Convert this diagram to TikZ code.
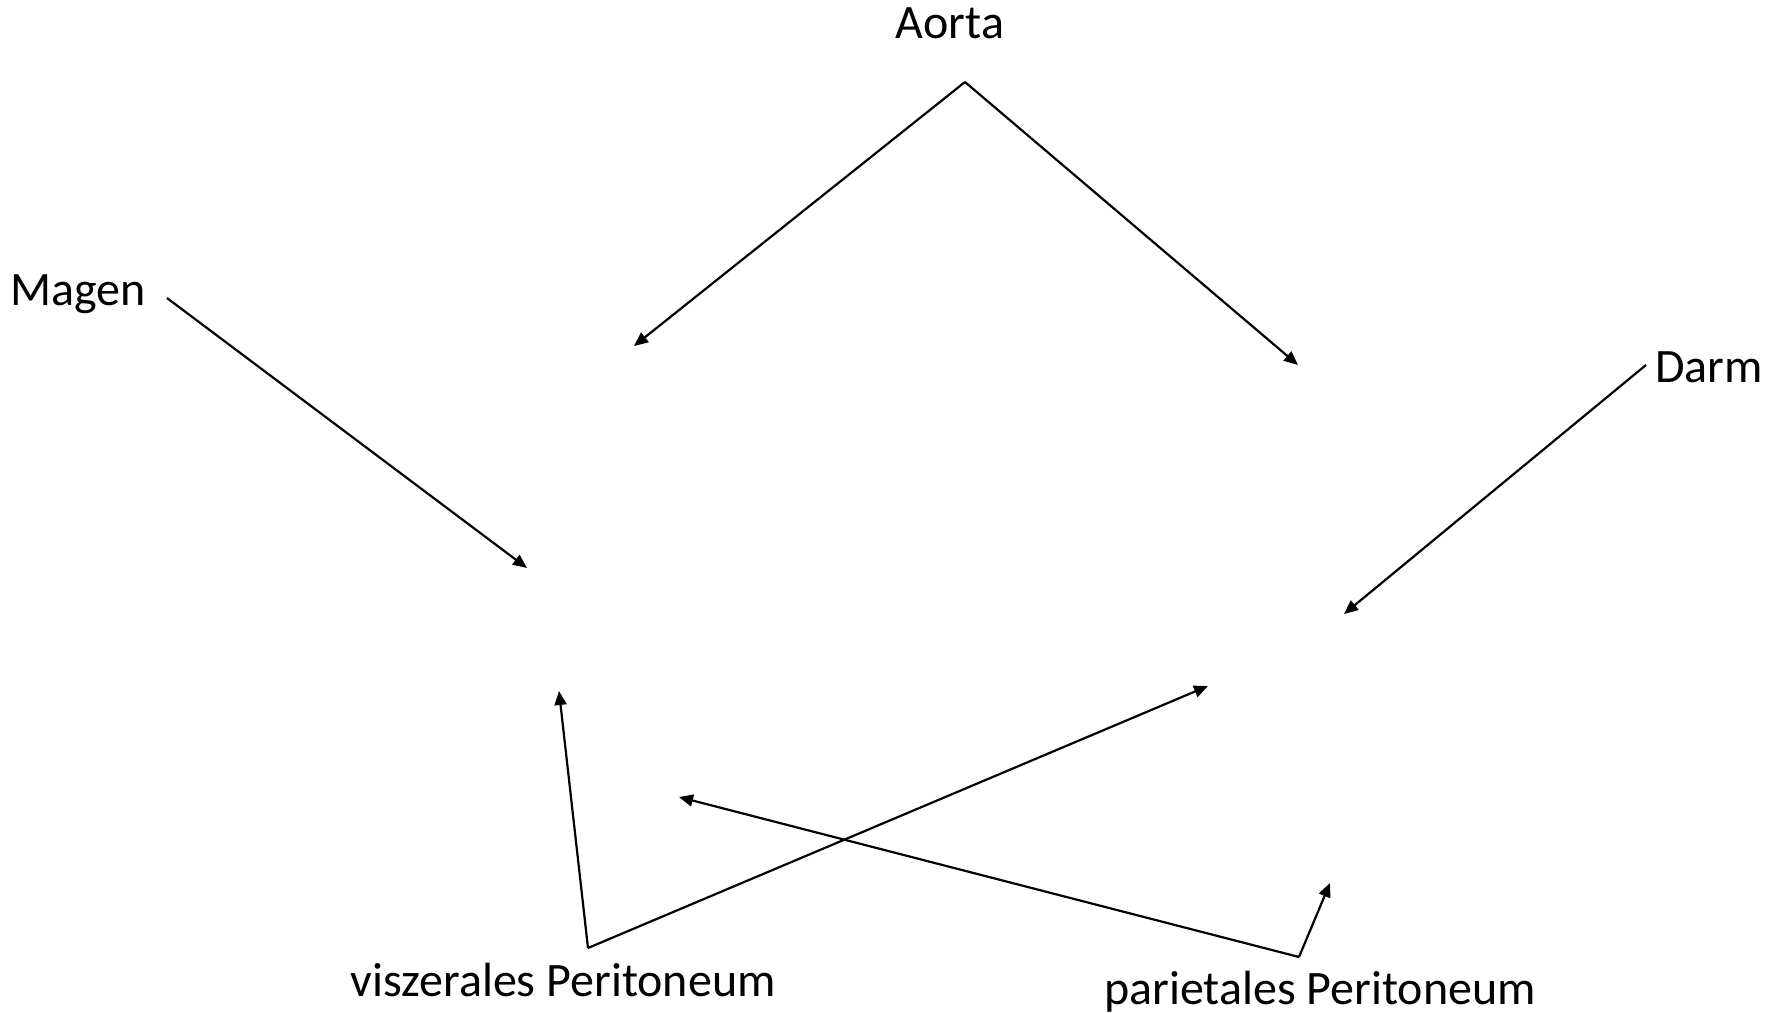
\documentclass[tikz,border=0pt]{standalone}
\usepackage{fontspec}
\setmainfont{Carlito}
\usetikzlibrary{arrows.meta}
\begin{document}
\begin{tikzpicture}[x=0.5pt,y=-0.5pt,
  lbl/.style={font=\fontsize{24pt}{29pt}\selectfont, anchor=base, inner sep=0pt},
  arr/.style={line width=1.1pt, -{Triangle[length=7pt,width=6pt]}}]
\useasboundingbox[fill=white] (0,0) rectangle (1785,1013);
% labels
\node[lbl] (aorta) at (950,38) {Aorta};
\node[lbl] (magen) at (78,305) {Magen};
\node[lbl] (darm) at (1709,382) {Darm};
\node[lbl] (visz) at (563,996) {viszerales Peritoneum};
\node[lbl] (pari) at (1320,1004) {parietales Peritoneum};
% connector points
\coordinate (apex) at (965,82);
\coordinate (a1) at (634,346);
\coordinate (a2) at (1298,365);
\coordinate (ms) at (167,298);
\coordinate (mt) at (527,568);
\coordinate (ds) at (1646,365);
\coordinate (dt) at (1344,614);
\coordinate (vv) at (588,948);
\coordinate (v1) at (559,691);
\coordinate (v2) at (1208,686);
\coordinate (pv) at (1299,957);
\coordinate (p1) at (1330,883);
\coordinate (p2) at (679,797);
% connectors
\draw[arr] (apex) -- (a1);
\draw[arr] (apex) -- (a2);
\draw[arr] (ms) -- (mt);
\draw[arr] (ds) -- (dt);
\draw[arr] (vv) -- (v1);
\draw[arr] (vv) -- (v2);
\draw[arr] (pv) -- (p1);
\draw[arr] (pv) -- (p2);
\end{tikzpicture}
\end{document}
